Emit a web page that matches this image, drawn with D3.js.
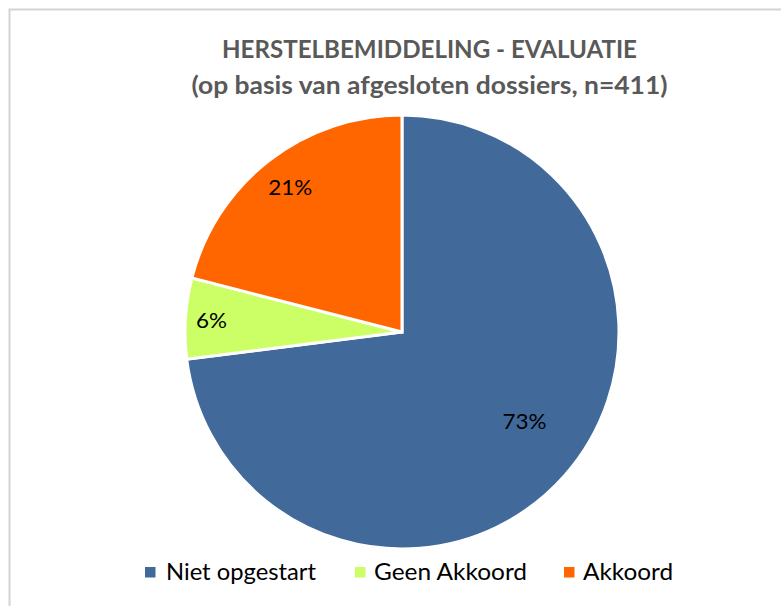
<!DOCTYPE html>
<html>
<head>
<meta charset="utf-8">
<script src="https://cdn.jsdelivr.net/npm/d3@7"></script>
<style>
  html, body { margin: 0; padding: 0; background: #ffffff; }
  svg { display: block; }
</style>
</head>
<body>
<svg id="chart" width="781" height="606"></svg>
<script>
// ---- data ----
const categories = ["Niet opgestart", "Geen Akkoord", "Akkoord"];
const values = [73, 6, 21];
const colors = ["#416A9B", "#CCFF66", "#FF6600"];
const titleLines = ["HERSTELBEMIDDELING - EVALUATIE", "(op basis van afgesloten dossiers, n=411)"];

// ---- layout ----
const W = 781, H = 606;
const cx = 402, cy = 332, R = 217;
const FONT = "Lato, 'Open Sans', 'DejaVu Sans', sans-serif";

const svg = d3.select("#chart");

// chart frame
svg.append("rect")
  .attr("x", 9.5).attr("y", 9.5)
  .attr("width", W + 20).attr("height", H + 20)
  .attr("fill", "#ffffff")
  .attr("stroke", "#d4d4d4").attr("stroke-width", 2);

// title
const titleY = [58, 94];
const titleW = [415, 476];
titleLines.forEach((t, i) => {
  svg.append("text")
    .attr("x", 429.5).attr("y", titleY[i])
    .attr("text-anchor", "middle")
    .attr("font-family", FONT)
    .attr("font-weight", "bold")
    .attr("font-size", 24)
    .attr("fill", "#595959")
    .attr("textLength", titleW[i])
    .attr("lengthAdjust", "spacingAndGlyphs")
    .text(t);
});

// pie
const pie = d3.pie().sort(null).value(d => d)
  .startAngle(0).endAngle(2 * Math.PI);
const arcs = pie(values);
const arc = d3.arc().innerRadius(0).outerRadius(R);

const g = svg.append("g").attr("transform", `translate(${cx},${cy})`);
g.selectAll("path.slice")
  .data(arcs)
  .join("path")
  .attr("class", "slice")
  .attr("d", arc)
  .attr("fill", (d, i) => colors[i])
  .attr("stroke", "#ffffff")
  .attr("stroke-width", 3)
  .attr("stroke-linejoin", "miter");

// data labels
const labelRadius = [0.70, 0.88, 0.84];
const labelAngleShift = [-0.09, 0, 0];
const labelW = [44, 31, 44];
g.selectAll("text.lbl")
  .data(arcs)
  .join("text")
  .attr("class", "lbl")
  .each(function (d, i) {
    const a = (d.startAngle + d.endAngle) / 2 + labelAngleShift[i];
    const r = R * labelRadius[i];
    d3.select(this)
      .attr("x", r * Math.sin(a))
      .attr("y", -r * Math.cos(a) + 7.5)
      .attr("textLength", labelW[i]);
  })
  .attr("lengthAdjust", "spacingAndGlyphs")
  .attr("text-anchor", "middle")
  .attr("font-family", FONT)
  .attr("font-size", 21)
  .attr("fill", "#000000")
  .text(d => d3.format(".0f")(d.value / d3.sum(values) * 100) + "%");

// legend
const legendX = [145, 355, 564];
const legendTextX = [166, 374, 583];
const legendTextW = [150, 153, 90];
const legendBase = 580;
const lg = svg.append("g");
categories.forEach((c, i) => {
  lg.append("rect")
    .attr("x", legendX[i]).attr("y", 567)
    .attr("width", 10.5).attr("height", 10.5)
    .attr("fill", colors[i]);
  lg.append("text")
    .attr("x", legendTextX[i]).attr("y", legendBase)
    .attr("font-family", FONT)
    .attr("font-size", 23)
    .attr("fill", "#000000")
    .attr("textLength", legendTextW[i])
    .attr("lengthAdjust", "spacingAndGlyphs")
    .text(c);
});
</script>
</body>
</html>
